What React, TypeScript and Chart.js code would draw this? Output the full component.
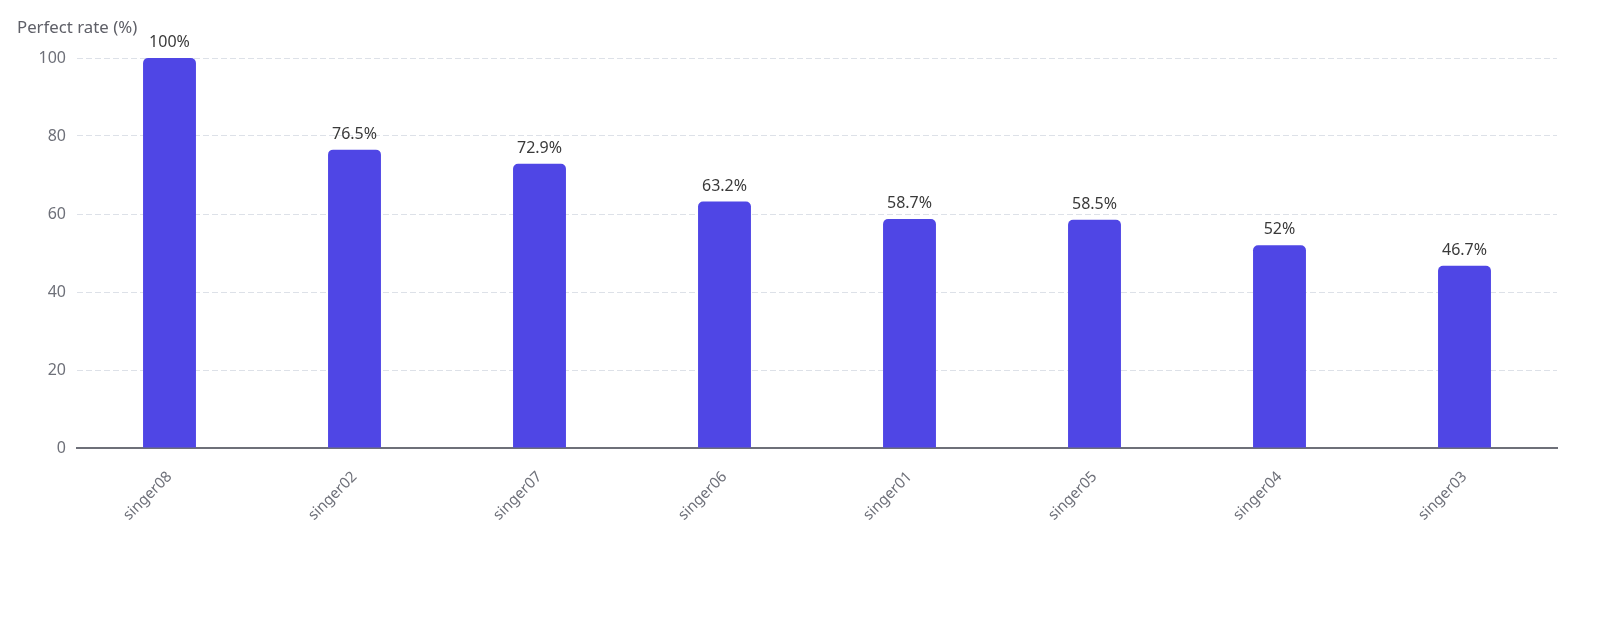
import React, { useEffect, useRef } from "react";
import { Chart, registerables } from "chart.js";

Chart.register(...registerables);

const categories = ["singer08", "singer02", "singer07", "singer06", "singer01", "singer05", "singer04", "singer03"];
const perfectRate = [100, 76.5, 72.9, 63.2, 58.7, 58.5, 52, 46.7];
const valueLabels = ["100%", "76.5%", "72.9%", "63.2%", "58.7%", "58.5%", "52%", "46.7%"];
const yTicks = [0, 20, 40, 60, 80, 100];

const FONT = "'Noto Sans', 'Open Sans', sans-serif";

export default function App() {
  const ref = useRef<HTMLCanvasElement | null>(null);
  useEffect(() => {
    if (!ref.current) return;
    const labelPlugin = {
      id: "valueLabels",
      afterDatasetsDraw(chart: any) {
        const ctx = chart.ctx;
        const meta = chart.getDatasetMeta(0);
        ctx.save();
        ctx.font = `16px ${FONT}`;
        ctx.fillStyle = "#3a3a3a";
        ctx.textAlign = "center";
        ctx.textBaseline = "alphabetic";
        meta.data.forEach((bar: any, i: number) => {
          ctx.fillText(valueLabels[i], bar.x, bar.y - 11);
        });
        ctx.fillStyle = "#5f6068";
        ctx.font = `16.8px ${FONT}`;
        ctx.textAlign = "left";
        ctx.fillText("Perfect rate (%)", 9, 25);
        ctx.restore();
      },
    };
    const chart = new Chart(ref.current, {
      type: "bar",
      data: {
        labels: categories,
        datasets: [
          {
            data: perfectRate,
            backgroundColor: "#4f46e5",
            borderRadius: 5,
            borderSkipped: "bottom",
            barPercentage: 0.286,
            categoryPercentage: 1,
          },
        ],
      },
      options: {
        animation: false,
        responsive: true,
        maintainAspectRatio: false,
        layout: { padding: { left: 0, right: 35, top: 50, bottom: 0 } },
        plugins: { legend: { display: false }, tooltip: { enabled: false }, title: { display: false } },
        scales: {
          x: {
            grid: { display: false, drawTicks: false },
            border: { display: true, color: "#6e7079", width: 2 },
            ticks: {
              maxRotation: 45,
              minRotation: 45,
              padding: 20,
              color: "#6e7079",
              font: { size: 15, family: FONT },
            },
            afterFit(scale: any) {
              scale.height = 171;
            },
          },
          y: {
            min: 0,
            max: 100,
            afterBuildTicks(scale: any) {
              scale.ticks = yTicks.map((v) => ({ value: v }));
            },
            grid: {
              color: (c: any) => (c.tick && c.tick.value === 0 ? "rgba(0,0,0,0)" : "#dde1e8"),
              drawTicks: false,
              lineWidth: 1,
            },
            border: { display: false, dash: [6, 3] },
            ticks: {
              padding: 11,
              color: "#6e7079",
              font: { size: 16, family: FONT },
            },
            afterFit(scale: any) {
              scale.width = 69;
            },
          },
        },
      },
      plugins: [labelPlugin],
    });
    return () => chart.destroy();
  }, []);
  return (
    <div style={{ width: 1584, height: 611, position: "relative" }}>
      <canvas ref={ref} />
    </div>
  );
}
